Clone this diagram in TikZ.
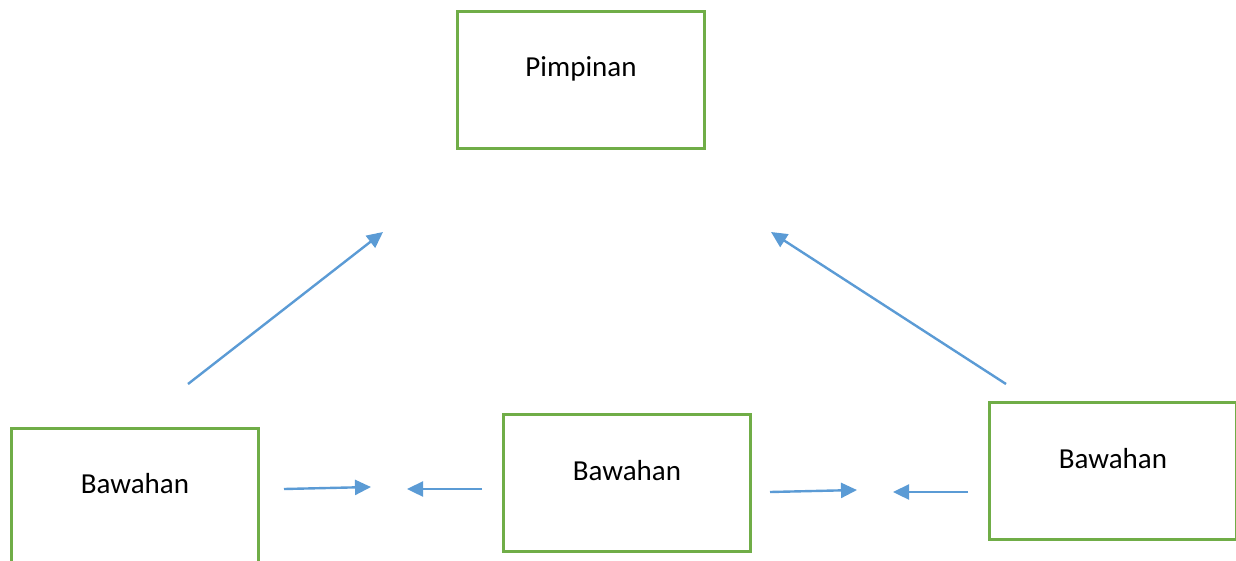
\documentclass[tikz,border=0pt]{standalone}
\usepackage{fontspec}
\setmainfont{Carlito}
\usetikzlibrary{arrows.meta,positioning,calc}
\definecolor{boxgreen}{HTML}{70AD47}
\definecolor{arrowblue}{HTML}{5B9BD5}
\tikzset{x=1pt, y=-1pt, % one unit is one pixel of the page, y grows downwards
        unitbox/.style={ % Sets the properties for each box
            draw=boxgreen,
            line width=3pt,
            minimum width=247pt,
            minimum height=137pt,
            anchor=north west},
        unitlabel/.style={ % Text sits near the top of each box
            font=\fontsize{29}{35}\selectfont,
            inner sep=0pt},
        flow/.style={ % Sets the properties for each arrow
            draw=arrowblue,
            line width=2.4pt,
            -{Triangle[length=16pt,width=15pt]}}
        }
\begin{document}
\begin{tikzpicture}
    \useasboundingbox (0,0) rectangle (1236,560);

    % boxes
    \node[unitbox] (lead) at (456,10) {};
    \node[unitbox] (subL) at (10,427) {};
    \node[unitbox] (subM) at (502,413) {};
    \node[unitbox] (subR) at (988,401) {};

    \node[unitlabel] (leadtext) at ($(lead.north)+(0,59)$) {Pimpinan};
    \node[unitlabel] (subLtext) at ($(subL.north)+(0,57)$) {Bawahan};
    \node[unitlabel] (subMtext) at ($(subM.north)+(0,58)$) {Bawahan};
    \node[unitlabel] (subRtext) at ($(subR.north)+(0,58)$) {Bawahan};

    % arrow ends
    \coordinate (upLa) at (188,384);
    \coordinate (upLb) at (383,232);
    \coordinate (upRa) at (1006,384);
    \coordinate (upRb) at (771,232);
    \coordinate (p1a) at (284,489);
    \coordinate (p1b) at (371,487);
    \coordinate (p2a) at (482,489);
    \coordinate (p2b) at (407,489);
    \coordinate (p3a) at (770,492);
    \coordinate (p3b) at (857,490);
    \coordinate (p4a) at (968,492);
    \coordinate (p4b) at (893,492);

    \draw[flow] (upLa) -- (upLb);
    \draw[flow] (upRa) -- (upRb);
    \draw[flow] (p1a) -- (p1b);
    \draw[flow] (p2a) -- (p2b);
    \draw[flow] (p3a) -- (p3b);
    \draw[flow] (p4a) -- (p4b);
\end{tikzpicture}
\end{document}
